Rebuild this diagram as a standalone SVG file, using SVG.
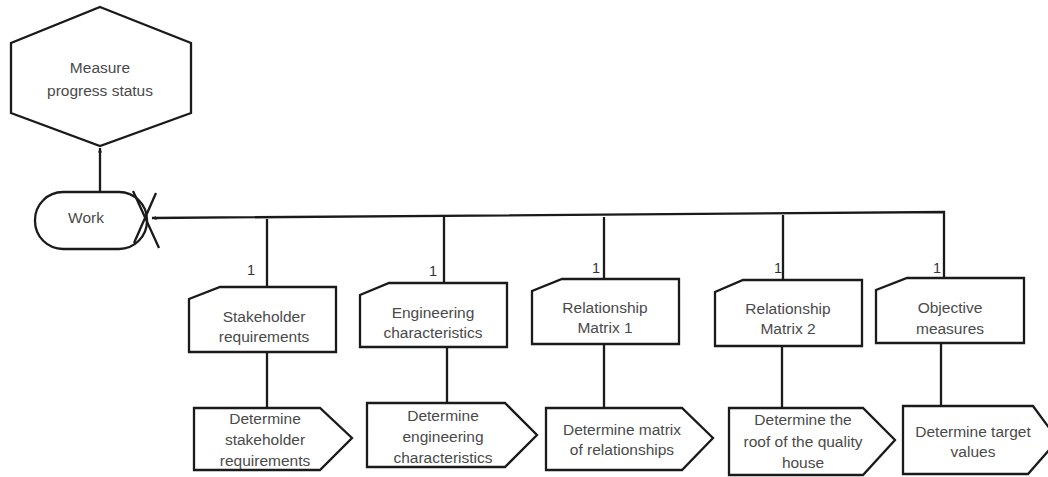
<svg xmlns="http://www.w3.org/2000/svg" width="1048" height="477" viewBox="0 0 1048 477">
<style>
.s{fill:#fff;stroke:#1a1a1a;stroke-width:2.3;stroke-linejoin:miter}
.c{fill:none;stroke:#1a1a1a;stroke-width:2.3}
.t{font-family:"Liberation Sans",Arial,sans-serif;font-size:15.5px;fill:#4a4a4a;text-anchor:middle}
.n{font-family:"Liberation Sans",Arial,sans-serif;font-size:14.5px;fill:#333;text-anchor:middle}
</style>
<defs>
<marker id="ah" viewBox="0 0 10 10" refX="9" refY="5" markerWidth="5" markerHeight="5" orient="auto" markerUnits="userSpaceOnUse">
<path d="M0,1 L10,5 L0,9 Z" fill="#1a1a1a"/>
</marker>
</defs>
<g id="connectors">
<line class="c" x1="100" y1="191" x2="100" y2="148" marker-end="url(#ah)"/>
<polyline class="c" points="944,282 944,212 152,218" marker-end="url(#ah)"/>
<line class="c" x1="267" y1="219" x2="267" y2="287"/>
<line class="c" x1="444" y1="217" x2="444" y2="283"/>
<line class="c" x1="604" y1="217" x2="604" y2="279"/>
<line class="c" x1="783" y1="215" x2="783" y2="280"/>
<line class="c" x1="267" y1="352" x2="267" y2="408"/>
<line class="c" x1="447" y1="347" x2="447" y2="403"/>
<line class="c" x1="604" y1="344" x2="604" y2="408"/>
<line class="c" x1="782" y1="346" x2="782" y2="408"/>
<line class="c" x1="941" y1="343" x2="941" y2="406"/>
<text class="n" x="251" y="275">1</text>
<text class="n" x="433" y="276">1</text>
<text class="n" x="596" y="273">1</text>
<text class="n" x="778" y="273">1</text>
<text class="n" x="937" y="273">1</text>
</g>
<g id="measure">
<polygon class="s" points="100,7 191,43 191,113 100,146 11,113 11,43"/>
<text class="t" x="100" y="73">Measure</text>
<text class="t" x="100" y="96">progress status</text>
</g>
<g id="work">
<rect class="s" x="35" y="192" width="112" height="57" rx="28" ry="28"/>
<line class="c" x1="156" y1="193" x2="134" y2="243"/>
<line class="c" x1="133" y1="191" x2="159" y2="248"/>
<text class="t" x="86" y="223">Work</text>
</g>
<g id="stakeholder-req">
<polygon class="s" points="220,287 336,287 336,352 189,352 189,299"/>
<text class="t" x="264" y="322">Stakeholder</text>
<text class="t" x="264" y="342">requirements</text>
</g>
<g id="engineering-char">
<polygon class="s" points="389,283 507,283 507,347 360,347 360,295"/>
<text class="t" x="433" y="318">Engineering</text>
<text class="t" x="433" y="338">characteristics</text>
</g>
<g id="rel-matrix-1">
<polygon class="s" points="562,279 679,279 679,344 532,344 532,291"/>
<text class="t" x="605" y="313">Relationship</text>
<text class="t" x="605" y="333">Matrix 1</text>
</g>
<g id="rel-matrix-2">
<polygon class="s" points="743,280 862,280 862,346 715,346 715,292"/>
<text class="t" x="788" y="314">Relationship</text>
<text class="t" x="788" y="334">Matrix 2</text>
</g>
<g id="objective-measures">
<polygon class="s" points="907,278 1024,278 1024,343 876,343 876,290"/>
<text class="t" x="950" y="313">Objective</text>
<text class="t" x="950" y="334">measures</text>
</g>
<g id="det-stakeholder">
<polygon class="s" points="194,408 320,408 352,438 320,470 194,470"/>
<text class="t" x="265" y="424">Determine</text>
<text class="t" x="265" y="445">stakeholder</text>
<text class="t" x="265" y="466">requirements</text>
</g>
<g id="det-engineering">
<polygon class="s" points="367,403 505,403 537,435 505,467 367,467"/>
<text class="t" x="443" y="421">Determine</text>
<text class="t" x="443" y="442">engineering</text>
<text class="t" x="443" y="463">characteristics</text>
</g>
<g id="det-matrix">
<polygon class="s" points="546,408 682,408 713,438 682,470 546,470"/>
<text class="t" x="622" y="435">Determine matrix</text>
<text class="t" x="622" y="455">of relationships</text>
</g>
<g id="det-roof">
<polygon class="s" points="729,408 863,408 895,440 863,475 729,475"/>
<text class="t" x="803" y="425">Determine the</text>
<text class="t" x="803" y="447">roof of the quality</text>
<text class="t" x="803" y="468">house</text>
</g>
<g id="det-target">
<polygon class="s" points="903,406 1033,406 1058,440 1028,474 903,474"/>
<text class="t" x="973" y="437">Determine target</text>
<text class="t" x="973" y="457">values</text>
</g>
</svg>
